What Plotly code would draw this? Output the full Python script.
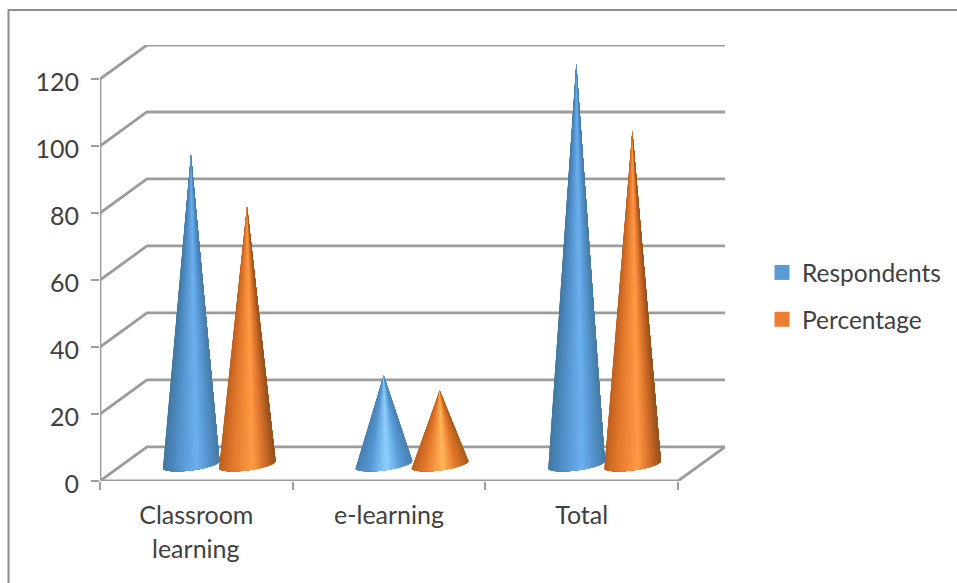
import math
import plotly.graph_objects as go

# Chart data
categories = ["Classroom", "e-learning", "Total"]
second_line = ["learning", "", ""]
respondents = [93, 27, 120]
percentage = [77.5, 22.5, 100]
value_ticks = [0, 20, 40, 60, 80, 100, 120]

# Pixel frame of the plot area
WIDTH, HEIGHT = 957, 583
LEFT, RIGHT_EDGE, TOP, BOTTOM = 100, 725, 45, 481
PX_CAT = 192.67
PX_VAL = 401 / 120
DEPTH_X = 47 / PX_CAT
DEPTH_Y = 34 / PX_VAL

GRID = "#9c9c9c"
TEXT = "#404040"
FONT = "Lato"
FONT_SIZE = 25
LEGEND_FONT_SIZE = 24.5

# Shading stops across a cone: position from -1 (left edge) to 1 (right edge)
BLUE_TALL = [(-1, "#41789f"), (-0.55, "#4f8cc6"), (0.2, "#6cb0ee"), (0.6, "#5594cf"), (1, "#467aa6")]
BLUE_SHORT = [(-1, "#4a80b0"), (-0.5, "#5596d2"), (0.12, "#8fd0ff"), (0.55, "#5b9edb"), (1, "#4a80b0")]
ORANGE_TALL = [(-1, "#bd5f20"), (-0.55, "#e0762a"), (0.2, "#ff9a45"), (0.6, "#d8702a"), (1, "#94501b")]
ORANGE_SHORT = [(-1, "#c0601f"), (-0.5, "#e67a2c"), (0.12, "#ffb659"), (0.55, "#e67a2c"), (1, "#ad5c1d")]


def shade(stops, u):
    for (u0, c0), (u1, c1) in zip(stops, stops[1:]):
        if u <= u1:
            f = (u - u0) / (u1 - u0)
            a = [int(c0[i:i + 2], 16) for i in (1, 3, 5)]
            b = [int(c1[i:i + 2], 16) for i in (1, 3, 5)]
            return "rgb(%d,%d,%d)" % tuple(round(p + (q - p) * f) for p, q in zip(a, b))
    return stops[-1][1]


fig = go.Figure()


def line_trace(xs, ys, color=GRID, width=2.8):
    fig.add_trace(go.Scatter(x=xs, y=ys, mode="lines", line=dict(color=color, width=width),
                             showlegend=False, hoverinfo="skip", cliponaxis=False))


# Walls and floor of the box
n_cat = len(categories)
for v in value_ticks:
    line_trace([0, DEPTH_X, n_cat + DEPTH_X], [v, v + DEPTH_Y, v + DEPTH_Y])
line_trace([n_cat + DEPTH_X, n_cat, 0], [DEPTH_Y, 0, 0])
line_trace([0, 0], [0, 120])


def draw_cone(center, value, stops):
    """Overlapping fans from the apex to the base ellipse, painted left to right."""
    half_w = 28.5 / PX_CAT
    base_val = 16.5 / PX_VAL      # centre of the base above the floor's front edge
    half_h = 6 / PX_VAL
    tilt = 3.5 / PX_VAL
    apex_val = value + 4.5
    steps = 48

    def rim(t):
        u = -math.cos(t)
        return u, center + half_w * u, base_val - half_h * math.sin(t) + tilt * u

    points = [rim(math.pi * i / steps) for i in range(steps + 1)]
    for i in range(steps):
        color = shade(stops, (points[i][0] + points[i + 1][0]) / 2)
        rest = points[i:]
        xs = [center] + [p[1] for p in rest] + [center]
        ys = [apex_val] + [p[2] for p in rest] + [apex_val]
        fig.add_trace(go.Scatter(x=xs, y=ys, mode="lines", fill="toself", fillcolor=color,
                                 line=dict(width=0), showlegend=False, hoverinfo="skip"))


# Cones, front-plane offsets within each category slot
for i in range(n_cat):
    tall = respondents[i] > 50
    draw_cone(i + 0.472, respondents[i], BLUE_TALL if tall else BLUE_SHORT)
    draw_cone(i + 0.763, percentage[i], ORANGE_TALL if tall else ORANGE_SHORT)

# Legend entries
for name, color, group in [("Respondents", "#5b9bd5", "a"), ("Percentage", "#ed7d31", "b")]:
    fig.add_trace(go.Scatter(x=[None], y=[None], mode="markers", name=name, legendgroup=group,
                             marker=dict(symbol="square", size=15, color=color)))

# Second line of the wrapped category label
annotations = [
    dict(x=i + 0.5, y=0, xref="x", yref="y", yshift=-67, text=t, showarrow=False,
         font=dict(family=FONT, size=FONT_SIZE, color=TEXT))
    for i, t in enumerate(second_line) if t
]


# Thin outer frame, open on the right and at the bottom
def px(x):
    return (x - LEFT) / (RIGHT_EDGE - LEFT)


def py(y):
    return (BOTTOM - y) / (BOTTOM - TOP)


frame = dict(type="path", xref="paper", yref="paper",
             path=f"M {px(8.5)} {py(HEIGHT)} L {px(8.5)} {py(10)} L {px(WIDTH)} {py(10)}",
             line=dict(color="#8c8c8c", width=2))

fig.update_layout(
    width=WIDTH, height=HEIGHT, autosize=False,
    margin=dict(l=LEFT, r=WIDTH - RIGHT_EDGE, t=TOP, b=HEIGHT - BOTTOM, pad=0, autoexpand=False),
    paper_bgcolor="white", plot_bgcolor="white",
    font=dict(family=FONT, size=FONT_SIZE, color=TEXT),
    shapes=[frame], annotations=annotations,
    legend=dict(x=px(762), y=py(250), xanchor="left", yanchor="top", tracegroupgap=12,
                font=dict(family=FONT, size=LEGEND_FONT_SIZE, color=TEXT), bgcolor="rgba(0,0,0,0)"),
    xaxis=dict(range=[0, n_cat + DEPTH_X], showgrid=False, zeroline=False, showline=False,
               tickmode="array", tickvals=[i + 0.5 for i in range(n_cat)], ticktext=categories,
               ticks="", ticklabelstandoff=17,
               minor=dict(tickmode="array", tickvals=list(range(n_cat + 1)), ticks="outside",
                          ticklen=8, tickwidth=1.5, tickcolor=GRID)),
    yaxis=dict(range=[0, 120 + DEPTH_Y], showgrid=False, zeroline=False, showline=False,
               tickmode="array", tickvals=value_ticks,
               ticks="outside", ticklen=8, tickwidth=1.5, tickcolor=GRID,
               ticklabelstandoff=7, ticklabelshift=3),
)

fig.write_html("out.html")
